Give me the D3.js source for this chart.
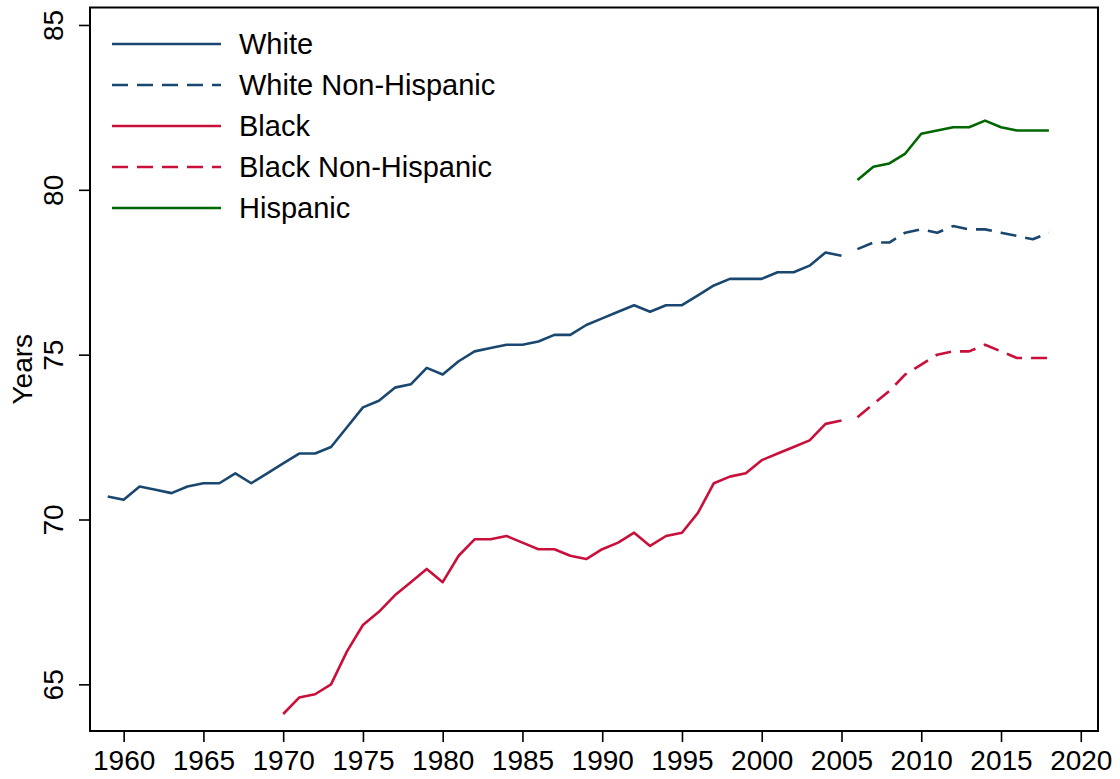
<!DOCTYPE html>
<html>
<head>
<meta charset="utf-8">
<script src="https://cdn.jsdelivr.net/npm/d3@7"></script>
<style>
  html, body { margin: 0; padding: 0; background: #ffffff; }
  svg { display: block; font-family: Arial, "Liberation Sans", sans-serif; }
</style>
</head>
<body>
<svg id="chart" width="1120" height="779"></svg>
<script>
// ---- Data (life expectancy at birth, years) ----
const whiteStart = 1959;
const whiteValues = [70.7, 70.6, 71.0, 70.9, 70.8, 71.0, 71.1, 71.1, 71.4, 71.1,
                     71.4, 71.7, 72.0, 72.0, 72.2, 72.8, 73.4, 73.6, 74.0, 74.1,
                     74.6, 74.4, 74.8, 75.1, 75.2, 75.3, 75.3, 75.4, 75.6, 75.6,
                     75.9, 76.1, 76.3, 76.5, 76.3, 76.5, 76.5, 76.8, 77.1, 77.3,
                     77.3, 77.3, 77.5, 77.5, 77.7, 78.1, 78.0];
const whiteNHStart = 2006;
const whiteNHValues = [78.2, 78.4, 78.4, 78.7, 78.8, 78.7, 78.9, 78.8, 78.8, 78.7, 78.6, 78.5, 78.7];
const blackStart = 1970;
const blackValues = [64.1, 64.6, 64.7, 65.0, 66.0, 66.8, 67.2, 67.7, 68.1, 68.5,
                     68.1, 68.9, 69.4, 69.4, 69.5, 69.3, 69.1, 69.1, 68.9, 68.8,
                     69.1, 69.3, 69.6, 69.2, 69.5, 69.6, 70.2, 71.1, 71.3, 71.4,
                     71.8, 72.0, 72.2, 72.4, 72.9, 73.0];
const blackNHStart = 2006;
const blackNHValues = [73.1, 73.5, 73.9, 74.4, 74.7, 75.0, 75.1, 75.1, 75.3, 75.1, 74.9, 74.9, 74.9];
const hispStart = 2006;
const hispValues = [80.3, 80.7, 80.8, 81.1, 81.7, 81.8, 81.9, 81.9, 82.1, 81.9, 81.8, 81.8, 81.8];

const xTicks = [1960, 1965, 1970, 1975, 1980, 1985, 1990, 1995, 2000, 2005, 2010, 2015, 2020];
const yTicks = [65, 70, 75, 80, 85];
const xDomain = [1957.89, 2021.08];
const yDomain = [63.585, 85.53];
const yTitle = "Years";

const seriesNames = ["White", "White Non-Hispanic", "Black", "Black Non-Hispanic", "Hispanic"];
const seriesColors = ["#1a476f", "#1a476f", "#c8103a", "#c8103a", "#006600"];
const seriesDashed = [false, true, false, true, false];
const seriesStarts = [whiteStart, whiteNHStart, blackStart, blackNHStart, hispStart];
const seriesValues = [whiteValues, whiteNHValues, blackValues, blackNHValues, hispValues];

// ---- Layout ----
const pLeft = 90, pRight = 1098, pTop = 7.5, pBottom = 731;
const svg = d3.select("#chart");

const x = d3.scaleLinear().domain(xDomain).range([pLeft, pRight]);
const y = d3.scaleLinear().domain(yDomain).range([pBottom, pTop]);

// Lines
const line = d3.line().x(d => x(d.year)).y(d => y(d.value));
const dash = "16,9";

seriesNames.forEach((name, i) => {
  const pts = seriesValues[i].map((v, k) => ({ year: seriesStarts[i] + k, value: v }));
  svg.append("path")
    .datum(pts)
    .attr("d", line)
    .attr("fill", "none")
    .attr("stroke", seriesColors[i])
    .attr("stroke-width", 2.6)
    .attr("stroke-linejoin", "round")
    .attr("stroke-dasharray", seriesDashed[i] ? dash : null);
});

// X axis
const xAxis = svg.append("g")
  .attr("transform", `translate(0,${pBottom})`)
  .call(d3.axisBottom(x).tickValues(xTicks).tickFormat(d3.format("d")).tickSize(11).tickPadding(8));
xAxis.select(".domain").remove();
xAxis.selectAll(".tick line").attr("stroke", "#000").attr("stroke-width", 1.6);
xAxis.selectAll(".tick text")
  .attr("fill", "#000")
  .style("font-size", "28px")
  .style("font-family", "Arial, 'Liberation Sans', sans-serif");

// Y axis
const yAxis = svg.append("g")
  .attr("transform", `translate(${pLeft},0)`)
  .call(d3.axisLeft(y).tickValues(yTicks).tickFormat(d3.format("d")).tickSize(11));
yAxis.select(".domain").remove();
yAxis.selectAll(".tick line").attr("stroke", "#000").attr("stroke-width", 1.6);
yAxis.selectAll(".tick text")
  .attr("x", null).attr("dy", null)
  .attr("transform", "translate(-27,0) rotate(-90)")
  .attr("text-anchor", "middle")
  .attr("fill", "#000")
  .style("font-size", "28px")
  .style("font-family", "Arial, 'Liberation Sans', sans-serif");

// Frame
svg.append("rect")
  .attr("x", pLeft).attr("y", pTop)
  .attr("width", pRight - pLeft).attr("height", pBottom - pTop)
  .attr("fill", "none").attr("stroke", "#000").attr("stroke-width", 2);

// Y title
svg.append("text")
  .attr("transform", `translate(32,${(pTop + pBottom) / 2}) rotate(-90)`)
  .attr("text-anchor", "middle")
  .style("font-size", "28px")
  .attr("fill", "#000")
  .text(yTitle);

// Legend
const legend = svg.append("g");
seriesNames.forEach((name, i) => {
  const ly = 44 + i * 41;
  legend.append("line")
    .attr("x1", 112).attr("x2", 221)
    .attr("y1", ly).attr("y2", ly)
    .attr("stroke", seriesColors[i])
    .attr("stroke-width", 2.6)
    .attr("stroke-dasharray", seriesDashed[i] ? dash : null);
  legend.append("text")
    .attr("x", 239).attr("y", ly + 10)
    .style("font-size", "29px")
    .attr("fill", "#000")
    .text(name);
});
</script>
</body>
</html>
